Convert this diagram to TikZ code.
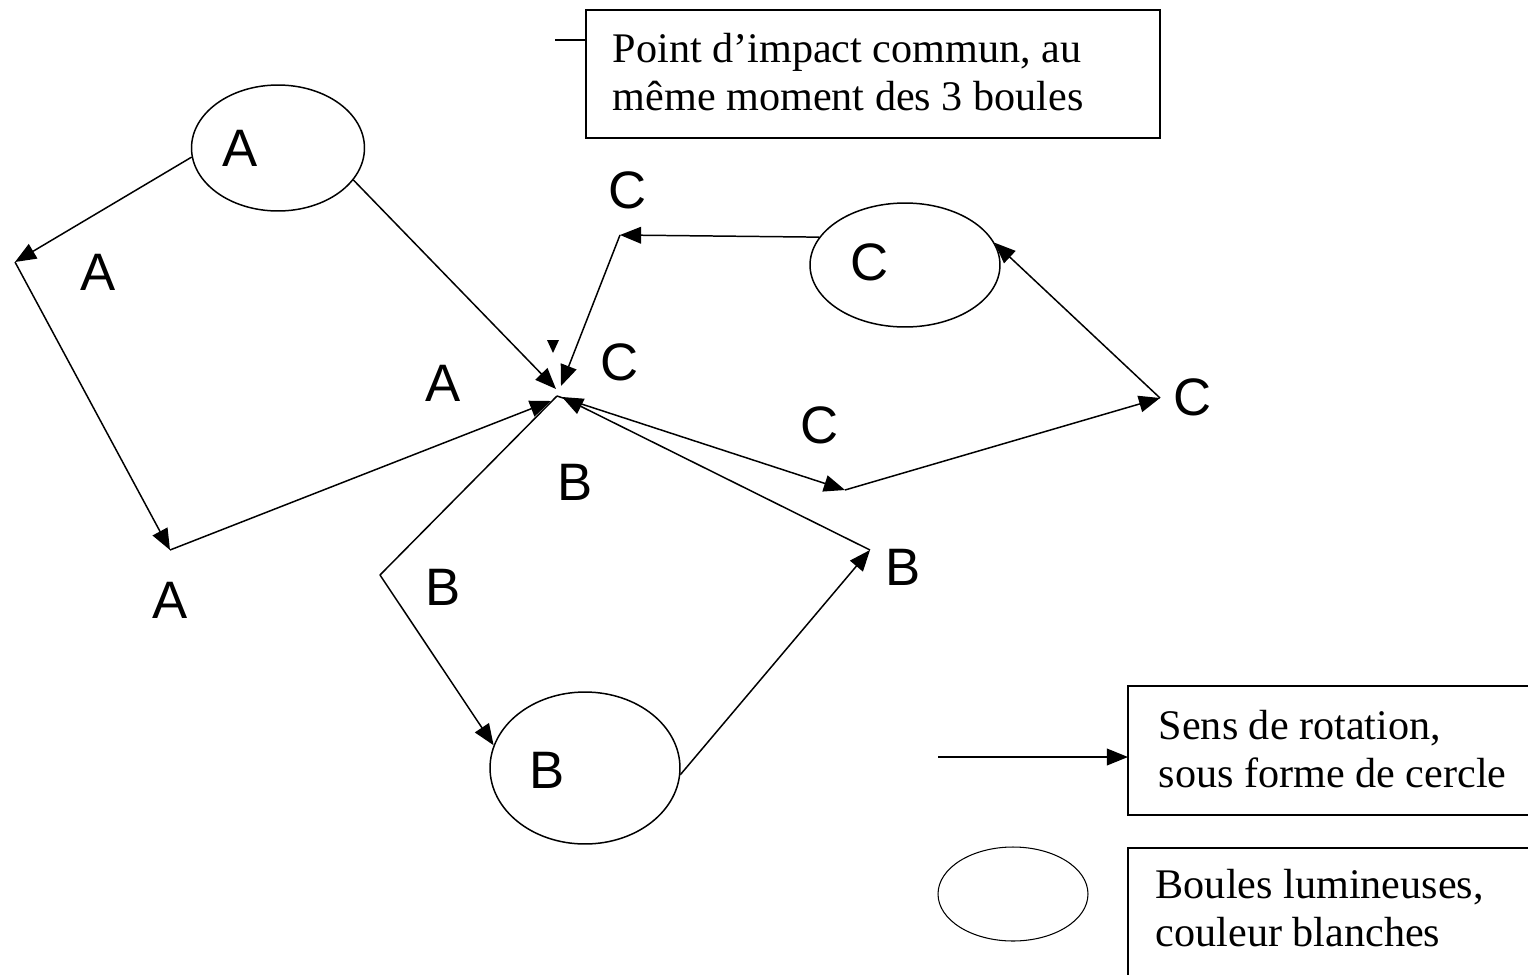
\documentclass[tikz,border=0pt]{standalone}
\usepackage{fontspec}
\setmainfont{Liberation Serif}
\newfontfamily\labfont{Liberation Sans}
\usetikzlibrary{shapes.geometric,arrows.meta}
\begin{document}
\begin{tikzpicture}[x=0.02cm,y=-0.02cm,
  line width=0.85pt,
  boule/.style={draw,ellipse,inner sep=0pt},
  lab/.style={font=\labfont\fontsize{30}{30}\selectfont,inner sep=0pt},
  boxtxt/.style={font=\fontsize{24}{26.8}\selectfont,align=left,inner sep=0pt,anchor=base west},
  frame/.style={draw,line width=0.95pt},
  arr/.style={-{Triangle[length=12pt,width=9.5pt]}}
]
\useasboundingbox (0,0) rectangle (1528,974);

% balls
\node[boule,minimum width=3.46cm,minimum height=2.52cm] (eA) at (278,148) {};
\node[boule,minimum width=3.8cm,minimum height=2.48cm] (eC) at (905,265) {};
\node[boule,minimum width=3.8cm,minimum height=3.04cm] (eB) at (585,768) {};

% corner points
\coordinate (a1) at (15,262);
\coordinate (a2) at (170,550);
\coordinate (c1) at (620,235);
\coordinate (c2) at (845,490);
\coordinate (c3) at (1160,398);
\coordinate (b1) at (380,575);
\coordinate (b2) at (870,550);
% impact point
\coordinate (P) at (557,396);
\coordinate (pA1) at (556,389);
\coordinate (pC1) at (561,386);
\coordinate (pA2) at (551,401);
\coordinate (pB2) at (562,397);

% A path
\draw[arr] (eA.186) -- (a1);
\draw[arr] (a1) -- (a2);
\draw[arr] (a2) -- (pA2);
\draw[arr] (eA.-23) -- (pA1);
% C path
\draw[arr] (eC.162) -- (c1);
\draw[arr] (c1) -- (pC1);
\draw[arr] (P) -- (c2);
\draw[arr] (c2) -- (c3);
\draw[arr] (c3) -- (eC.14);
% B path
\draw (P) -- (b1);
\draw[arr] (b1) -- (eB.166);
\draw[arr] (eB.-4) -- (b2);
\draw[arr] (b2) -- (pB2);

% stray arrowhead
\fill (547,340) -- (559,340) -- (553,353) -- cycle;

% labels
\node[lab] (lA0) at (240,148) {A};
\node[lab] (lA1) at (98,272) {A};
\node[lab] (lA2) at (443,383) {A};
\node[lab] (lA3) at (170,600) {A};
\node[lab] (lC0) at (870,262) {C};
\node[lab] (lC1) at (628,190) {C};
\node[lab] (lC2) at (620,362) {C};
\node[lab] (lC3) at (820,425) {C};
\node[lab] (lC4) at (1193,397) {C};
\node[lab] (lB0) at (547,770) {B};
\node[lab] (lB1) at (575,482) {B};
\node[lab] (lB2) at (443,587) {B};
\node[lab] (lB3) at (903,567) {B};

% top box
\draw[frame] (586,10) rectangle (1160,138);
\coordinate (tbw) at (586,40);
\coordinate (stub) at (555,40);
\draw (stub) -- (tbw);
\node[boxtxt] (ttxt) at (612,110) {Point d'impact commun, au\\même moment des 3 boules};

% legend
\draw[frame] (1128,686) rectangle (1532,815);
\coordinate (l1w) at (1128,757);
\coordinate (l1s) at (938,757);
\draw[arr] (l1s) -- (l1w);
\node[boxtxt] (l1txt) at (1158,787) {Sens de rotation,\\sous forme de cercle};

\draw[frame] (1128,848) rectangle (1532,978);
\node[boule,line width=0.6pt,minimum width=3.0cm,minimum height=1.88cm] (eL) at (1013,894) {};
\node[boxtxt] (l2txt) at (1155,946) {Boules lumineuses,\\couleur blanches};
\end{tikzpicture}
\end{document}
